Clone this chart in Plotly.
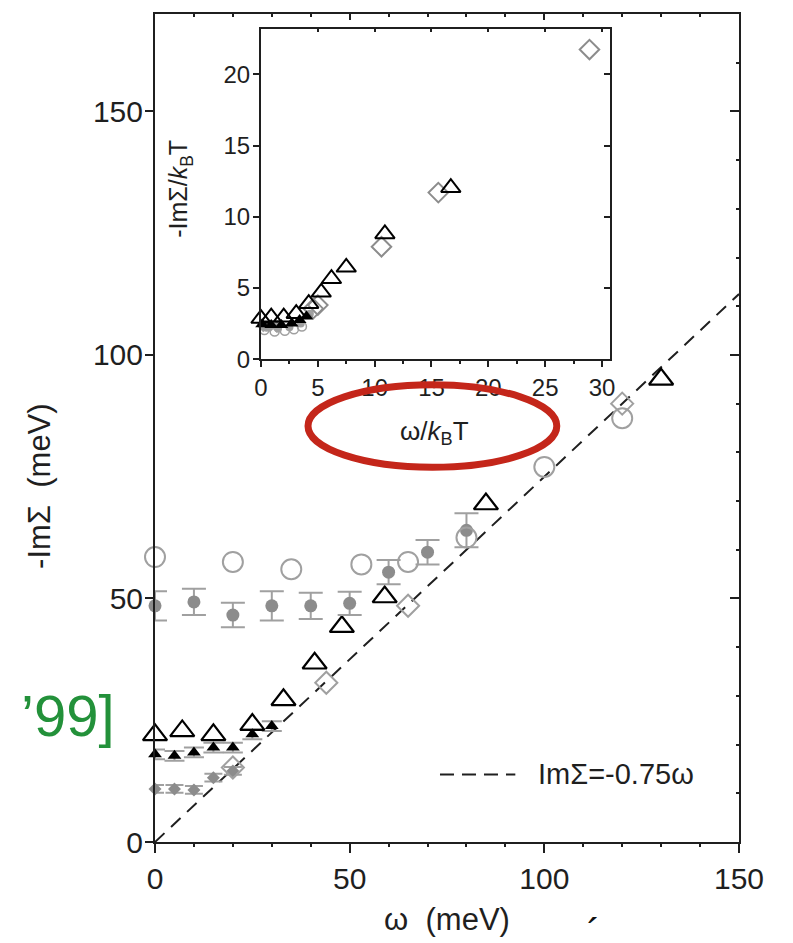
import plotly.graph_objects as go

# ---- main panel: -ImΣ (meV) versus ω (meV) ----
w_open_circ = [0, 20, 35, 53, 65, 80, 100, 120]
s_open_circ = [58.5, 57.5, 56.0, 57.0, 57.5, 62.5, 77.0, 87.0]

w_fill_circ = [0, 10, 20, 30, 40, 50, 60, 70, 80]
s_fill_circ = [48.5, 49.3, 46.6, 48.5, 48.5, 49.0, 55.4, 59.5, 64.0]
e_fill_circ = [3.0, 2.7, 2.5, 3.0, 2.7, 2.4, 2.5, 2.5, 3.5]

w_open_tri = [0, 7, 15, 25, 33, 41, 48, 59, 85, 130]
s_open_tri = [22.0, 22.8, 22.0, 24.1, 29.2, 36.7, 44.2, 50.3, 69.4, 95.0]

w_fill_tri = [0, 5, 10, 15, 20, 25, 30]
s_fill_tri = [18.0, 17.7, 18.4, 19.4, 19.4, 22.1, 23.8]
e_fill_tri = [1.0, 1.0, 1.0, 1.0, 1.0, 1.0, 1.0]

w_fill_dia = [0, 5, 10, 15, 20]
s_fill_dia = [10.9, 10.9, 10.7, 13.2, 14.6]
e_fill_dia = [0.8, 0.8, 0.8, 0.8, 0.8]

w_open_dia = [20, 44, 65, 120]
s_open_dia = [15.3, 32.7, 48.5, 90.0]

# reference line ImΣ = -0.75 ω
slope = 0.75
w_line = [0, 150]
s_line = [slope * w for w in w_line]

main_x_ticks = [0, 50, 100, 150]
main_y_ticks = [0, 50, 100, 150]

# ---- inset: -ImΣ/kBT versus ω/kBT ----
i_open_tri_x = [0.0, 0.9, 2.0, 3.1, 4.2, 5.3, 6.2, 7.5, 10.9, 16.7]
i_open_tri_y = [2.85, 2.95, 2.95, 3.2, 3.9, 4.7, 5.65, 6.45, 8.8, 12.05]

i_fill_tri_x = [0.1, 0.9, 1.8, 2.7, 3.4, 4.0]
i_fill_tri_y = [2.45, 2.4, 2.4, 2.5, 2.75, 3.0]

i_open_dia_x = [4.6, 5.0, 10.6, 15.6, 28.9]
i_open_dia_y = [3.55, 3.8, 7.9, 11.7, 21.75]

i_open_circ_x = [0.3, 1.2, 2.1, 2.9, 3.6]
i_open_circ_y = [2.05, 1.95, 2.0, 2.1, 2.3]

i_fill_circ_x = [0.5, 1.5, 2.5, 3.5, 4.3]
i_fill_circ_y = [2.2, 2.15, 2.25, 2.5, 3.2]

i_fill_dia_x = [0.2, 0.8, 1.4]
i_fill_dia_y = [2.3, 2.3, 2.25]

inset_x_ticks = [0, 5, 10, 15, 20, 25, 30]
inset_y_ticks = [0, 5, 10, 15, 20]

FONT = "Liberation Sans, Arial, Helvetica, sans-serif"
INK = "#1f1f1f"
GREY = "#8c8c8c"
LIGHT = "#a0a0a0"
DASH = "13px,9px"

fig = go.Figure()

# main panel traces
fig.add_trace(go.Scatter(x=w_line, y=s_line, mode="lines",
                         line=dict(color=INK, width=2, dash=DASH),
                         showlegend=False, hoverinfo="skip"))
fig.add_trace(go.Scatter(x=w_fill_dia, y=s_fill_dia, mode="markers",
                         marker=dict(symbol="diamond", size=10, color=GREY),
                         error_y=dict(type="data", array=e_fill_dia, color=LIGHT,
                                      thickness=2, width=9),
                         showlegend=False, cliponaxis=False))
fig.add_trace(go.Scatter(x=w_open_dia, y=s_open_dia, mode="markers",
                         marker=dict(symbol="diamond-open", size=17, color=LIGHT,
                                     line=dict(width=2)),
                         showlegend=False, cliponaxis=False))
fig.add_trace(go.Scatter(x=w_fill_tri, y=s_fill_tri, mode="markers",
                         marker=dict(symbol="triangle-up", size=12, color="#000000"),
                         error_y=dict(type="data", array=e_fill_tri, color=LIGHT,
                                      thickness=2, width=10),
                         showlegend=False, cliponaxis=False))
fig.add_trace(go.Scatter(x=w_open_tri, y=s_open_tri, mode="markers",
                         marker=dict(symbol="triangle-up-open", size=21, color="#000000",
                                     line=dict(width=2.2)),
                         showlegend=False, cliponaxis=False))
fig.add_trace(go.Scatter(x=w_fill_circ, y=s_fill_circ, mode="markers",
                         marker=dict(symbol="circle", size=13, color=GREY),
                         error_y=dict(type="data", array=e_fill_circ, color=LIGHT,
                                      thickness=2, width=12),
                         showlegend=False, cliponaxis=False))
fig.add_trace(go.Scatter(x=w_open_circ, y=s_open_circ, mode="markers",
                         marker=dict(symbol="circle-open", size=20, color=LIGHT,
                                     line=dict(width=2)),
                         showlegend=False, cliponaxis=False))

# inset traces
for xs, ys, sym, size, col, lw in [
    (i_open_circ_x, i_open_circ_y, "circle-open", 9, LIGHT, 1.5),
    (i_fill_circ_x, i_fill_circ_y, "circle", 8, LIGHT, 0),
    (i_fill_dia_x, i_fill_dia_y, "diamond", 9, LIGHT, 0),
    (i_open_dia_x, i_open_dia_y, "diamond-open", 15, GREY, 2),
    (i_fill_tri_x, i_fill_tri_y, "triangle-up", 12, "#000000", 0),
    (i_open_tri_x, i_open_tri_y, "triangle-up-open", 17, "#000000", 2),
]:
    fig.add_trace(go.Scatter(x=xs, y=ys, mode="markers", xaxis="x2", yaxis="y2",
                             marker=dict(symbol=sym, size=size, color=col,
                                         line=dict(width=lw)),
                             showlegend=False, cliponaxis=False))

# carriers for the inward-facing ticks on the top and right frames
fig.add_trace(go.Scatter(x=[None], y=[None], xaxis="x3", yaxis="y3",
                         showlegend=False, hoverinfo="skip"))
fig.add_trace(go.Scatter(x=[None], y=[None], xaxis="x4", yaxis="y4",
                         showlegend=False, hoverinfo="skip"))

axis_common = dict(showgrid=False, zeroline=False, showline=True,
                   linecolor=INK, linewidth=2, tickcolor=INK, tickwidth=2,
                   tickfont=dict(family=FONT, size=30, color=INK))

MX = [0.0, 1.0]
MY = [0.0, 1.0]
IX = [0.1815, 0.779]
IY = [0.5831, 0.982]

fig.update_layout(
    width=793, height=943,
    margin=dict(l=155, r=54, t=12, b=98),
    paper_bgcolor="white", plot_bgcolor="white",
    font=dict(family=FONT, color=INK),
    xaxis=dict(axis_common, domain=MX, range=[0, 150], tickvals=main_x_ticks,
               ticks="outside", ticklen=9, mirror=True, anchor="y",
               minor=dict(dtick=10, ticks="outside", ticklen=3, tickcolor=INK),
               title=dict(text="ω  (meV)", font=dict(size=31, family=FONT),
                          standoff=14)),
    yaxis=dict(axis_common, domain=MY, range=[0, 170], tickvals=main_y_ticks,
               ticks="outside", ticklen=8, mirror=True, anchor="x",
               ticklabelstandoff=-4),
    xaxis3=dict(overlaying="x", side="top", anchor="y", range=[0, 150],
                tickvals=main_x_ticks, ticks="inside", ticklen=6, tickwidth=2,
                tickcolor=INK, showticklabels=False, showline=False,
                showgrid=False, zeroline=False,
                minor=dict(dtick=10, ticks="inside", ticklen=3, tickcolor=INK)),
    yaxis3=dict(overlaying="y", side="right", anchor="x", range=[0, 170],
                tickvals=main_y_ticks, ticks="inside", ticklen=9, tickwidth=2,
                tickcolor=INK, showticklabels=False, showline=False,
                showgrid=False, zeroline=False,
                minor=dict(dtick=10, ticks="inside", ticklen=3, tickcolor=INK)),
    xaxis2=dict(axis_common, domain=IX, range=[0, 30.7], tickvals=inset_x_ticks,
                ticks="outside", ticklen=6, mirror=True, anchor="y2",
                tickfont=dict(family=FONT, size=24, color=INK),
                minor=dict(dtick=2.5, ticks="outside", ticklen=3, tickcolor=INK)),
    yaxis2=dict(axis_common, domain=IY, range=[0, 23.2], tickvals=inset_y_ticks,
                ticks="outside", ticklen=6, mirror=True, anchor="x2",
                tickfont=dict(family=FONT, size=24, color=INK),
                ticklabelstandoff=-2),
    xaxis4=dict(overlaying="x2", side="top", anchor="y2", range=[0, 30.7],
                tickvals=inset_x_ticks, ticks="inside", ticklen=3, tickwidth=2,
                tickcolor=INK, showticklabels=False, showline=False,
                showgrid=False, zeroline=False),
    yaxis4=dict(overlaying="y2", side="right", anchor="x2", range=[0, 23.2],
                tickvals=inset_y_ticks, ticks="inside", ticklen=6, tickwidth=2,
                tickcolor=INK, showticklabels=False, showline=False,
                showgrid=False, zeroline=False),
)

# axis titles placed as rotated / free text
fig.add_annotation(text="-ImΣ  (meV)", xref="paper", yref="paper",
                   x=-0.197, y=0.43, xanchor="center", yanchor="middle",
                   textangle=-90, showarrow=False,
                   font=dict(family=FONT, size=31, color=INK))
fig.add_annotation(text="-ImΣ/<i>k</i><sub>B</sub>T", xref="paper", yref="paper",
                   x=0.043, y=0.789, xanchor="center", yanchor="middle",
                   textangle=-90, showarrow=False,
                   font=dict(family=FONT, size=25, color=INK))
fig.add_annotation(text="ω/<i>k</i><sub>B</sub>T", xref="paper", yref="paper",
                   x=0.479, y=0.494, xanchor="center", yanchor="middle",
                   showarrow=False,
                   font=dict(family=FONT, size=26, color=INK))

# legend entry for the dashed line
fig.add_shape(type="line", xref="paper", yref="paper",
              x0=0.488, x1=0.617, y0=0.0816, y1=0.0816,
              line=dict(color=INK, width=2, dash="14px,8px"))
fig.add_annotation(text="ImΣ=-0.75ω", xref="paper", yref="paper",
                   x=0.652, y=0.0816, xanchor="left", yanchor="middle",
                   showarrow=False,
                   font=dict(family=FONT, size=29, color=INK))

# red hand-drawn ring around the inset abscissa label
fig.add_shape(type="circle", xref="paper", yref="paper",
              x0=0.262, x1=0.688, y0=0.4526, y1=0.5522,
              line=dict(color="#c4261a", width=7))

# green citation fragment at left
fig.add_annotation(text="’99]", xref="paper", yref="paper",
                   x=-0.149, y=0.1525, xanchor="center", yanchor="middle",
                   showarrow=False,
                   font=dict(family=FONT, size=58, color="#23913a"))

# accent mark near the bottom edge
fig.add_annotation(text="´", xref="paper", yref="paper",
                   x=0.75, y=-0.081, xanchor="center", yanchor="top",
                   showarrow=False,
                   font=dict(family=FONT, size=40, color="#111111"))

fig.write_html("out.html")
